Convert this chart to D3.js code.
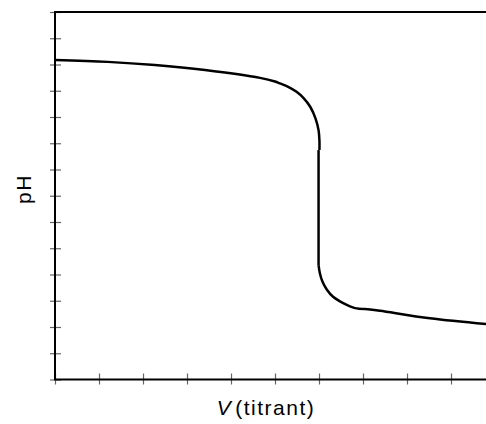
<!DOCTYPE html>
<html>
<head>
<meta charset="utf-8">
<script src="https://cdn.jsdelivr.net/npm/d3@7"></script>
<style>
  body { margin: 0; background: #fff; }
  svg { display: block; font-family: Arial, "Liberation Sans", sans-serif; }
</style>
</head>
<body>
<svg id="chart" width="486" height="424"></svg>
<script>
// titration curve: basic branch, jump, acidic branch
const upperV  = [0, 1.2, 2.27, 3.41, 4.66, 5.0, 5.11, 5.3, 5.49, 5.65, 5.80, 5.92, 5.99, 6.01, 6.01]
const upperPh = [12.17, 12.1, 11.98, 11.79, 11.49, 11.35, 11.28, 11.15, 10.96, 10.72, 10.39, 9.95, 9.5, 9.1, 8.74]
const jumpV   = [5.99, 5.99]
const jumpPh  = [8.74, 4.36]
const lowerV  = [5.99, 6.02, 6.08, 6.18, 6.32, 6.55, 6.82, 7.16, 7.39, 8.52, 9.8]
const lowerPh = [4.36, 4.05, 3.72, 3.42, 3.15, 2.91, 2.72, 2.67, 2.62, 2.33, 2.11]
const phTicks = [0, 1, 2, 3, 4, 5, 6, 7, 8, 9, 10, 11, 12, 13, 14]
const vTicks = [0, 1, 2, 3, 4, 5, 6, 7, 8, 9]

const svg = d3.select("#chart"),
    width = +svg.attr("width"),
    height = +svg.attr("height");

const mLeft = 55, mTop = 12, mBottom = 379.5;

const x = d3.scaleLinear().domain([0, (width - mLeft) / 44]).range([mLeft, width]);
const y = d3.scaleLinear().domain([0, 14]).range([mBottom, mTop]);

// ticks (cross the axis line)
const yAxis = svg.append("g")
    .attr("transform", `translate(${mLeft},0)`)
    .call(d3.axisLeft(y).tickValues(phTicks).tickFormat("").tickSize(5));
yAxis.select(".domain").remove();
yAxis.selectAll(".tick line").attr("x1", -5).attr("x2", 6).attr("stroke", "#666").attr("stroke-width", 1.2);

const xAxis = svg.append("g")
    .attr("transform", `translate(0,${mBottom})`)
    .call(d3.axisBottom(x).tickValues(vTicks).tickFormat("").tickSize(5));
xAxis.select(".domain").remove();
xAxis.selectAll(".tick line").attr("y1", -6).attr("y2", 5).attr("stroke", "#666").attr("stroke-width", 1.2);

// frame
svg.append("path")
    .attr("d", `M${width},${mTop}H${mLeft}V${mBottom}H${width}`)
    .attr("fill", "none")
    .attr("stroke", "#000")
    .attr("stroke-width", 2);

// curve, drawn as three pieces
const smooth = d3.line().x(d => x(d[0])).y(d => y(d[1])).curve(d3.curveCatmullRom.alpha(0.5));
const straight = d3.line().x(d => x(d[0])).y(d => y(d[1]));
const pieces = [
  [upperV, upperPh, smooth],
  [jumpV, jumpPh, straight],
  [lowerV, lowerPh, smooth]
];
svg.selectAll(".piece")
  .data(pieces)
  .join("path")
    .attr("class", "piece")
    .attr("fill", "none")
    .attr("stroke", "#000")
    .attr("stroke-width", 2.5)
    .attr("d", p => p[2](p[0].map((v, i) => [v, p[1][i]])));

// labels
svg.append("text")
    .attr("transform", `translate(31,189) rotate(-90)`)
    .attr("text-anchor", "middle")
    .style("font-size", "21px")
    .style("letter-spacing", "1.5px")
    .text("pH");

const xl = svg.append("text")
    .attr("x", 266)
    .attr("y", 415)
    .attr("text-anchor", "middle")
    .style("font-size", "21px")
    .style("letter-spacing", "1.5px");
xl.append("tspan").style("font-style", "italic").text("V");
xl.append("tspan").attr("dx", 3).text("(titrant)");
</script>
</body>
</html>
